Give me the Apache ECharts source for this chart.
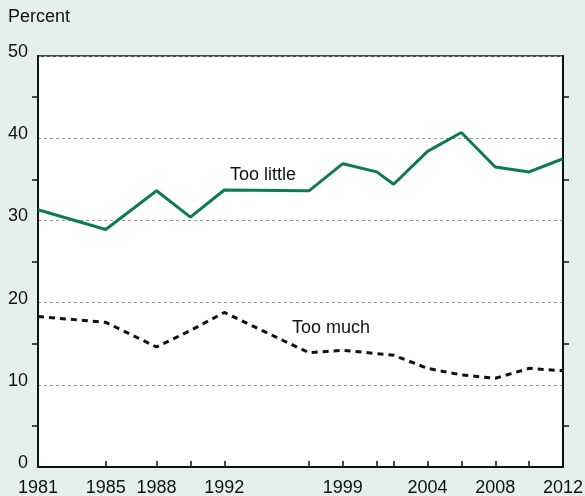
<!DOCTYPE html>
<html>
<head>
<meta charset="utf-8">
<script src="https://cdn.jsdelivr.net/npm/echarts@6/dist/echarts.min.js"></script>
<style>
  html, body { margin: 0; padding: 0; background: #e4f0ec; }
  #chart { width: 585px; height: 496px; }
</style>
</head>
<body>
<div id="chart"></div>
<script>
var years = [1981, 1985, 1988, 1990, 1992, 1997, 1999, 2001, 2002, 2004, 2006, 2008, 2010, 2012];
var tooLittle = [31.3, 28.9, 33.6, 30.4, 33.7, 33.6, 36.9, 35.9, 34.4, 38.4, 40.7, 36.5, 35.9, 37.5];
var tooMuch = [18.3, 17.6, 14.6, 16.6, 18.8, 13.9, 14.2, 13.8, 13.6, 12.0, 11.2, 10.8, 12.0, 11.7];
var yearLabels = [1981, 1985, 1988, 1992, 1999, 2004, 2008, 2012];

var font = 'Liberation Sans, Arial, Helvetica, sans-serif';
var myChart = echarts.init(document.getElementById('chart'));

function pairs(vals) {
    return years.map(function (y, i) { return [y, vals[i]]; });
}

var yBase = {
    type: 'value',
    min: 0,
    max: 50,
    interval: 10,
    axisLine: { show: true, lineStyle: { color: '#111', width: 2 } },
    axisTick: { show: false },
    minorTick: { show: true, inside: true, splitNumber: 2, length: 6, lineStyle: { color: '#111', width: 1.5 } },
    minorSplitLine: { show: false }
};

var option = {
    backgroundColor: '#e4f0ec',
    animation: false,
    grid: {
        left: 38, right: 22, top: 56, bottom: 29,
        outerBoundsMode: 'none',
        show: true, backgroundColor: '#fff', borderColor: '#111', borderWidth: 1.5
    },
    xAxis: {
        type: 'value',
        min: 1981,
        max: 2012,
        axisLine: { show: true, lineStyle: { color: '#111', width: 2 } },
        axisTick: {
            show: true, inside: true, length: 6,
            customValues: years.slice(1, years.length - 1),
            lineStyle: { color: '#111', width: 1.5 }
        },
        axisLabel: {
            customValues: yearLabels,
            formatter: function (v) { return String(v); },
            margin: 12,
            fontFamily: font, fontSize: 18, color: '#111'
        },
        splitLine: { show: false }
    },
    yAxis: [
        Object.assign({}, yBase, {
            position: 'left',
            axisLabel: {
                margin: 10, verticalAlign: 'bottom', lineHeight: 8,
                fontFamily: font, fontSize: 18, color: '#111'
            },
            splitLine: { show: true, lineStyle: { color: '#999', type: [3, 3], width: 1 } }
        }),
        Object.assign({}, yBase, {
            position: 'right',
            axisLabel: { show: false },
            splitLine: { show: false }
        })
    ],
    graphic: [
        { type: 'text', left: 8, top: 8, style: { text: 'Percent', font: '18px ' + font, fill: '#111' } },
        { type: 'text', left: 230, top: 166, style: { text: 'Too little', font: '18px ' + font, fill: '#111' } },
        { type: 'text', left: 292, top: 319, style: { text: 'Too much', font: '18px ' + font, fill: '#111' } }
    ],
    series: [
        {
            name: 'Too little',
            type: 'line',
            data: pairs(tooLittle),
            symbol: 'none',
            lineStyle: { color: '#0e7a55', width: 3 }
        },
        {
            name: 'Too much',
            type: 'line',
            data: pairs(tooMuch),
            symbol: 'none',
            lineStyle: { color: '#111', width: 3, type: [6, 5] }
        }
    ]
};
myChart.setOption(option);
</script>
</body>
</html>
